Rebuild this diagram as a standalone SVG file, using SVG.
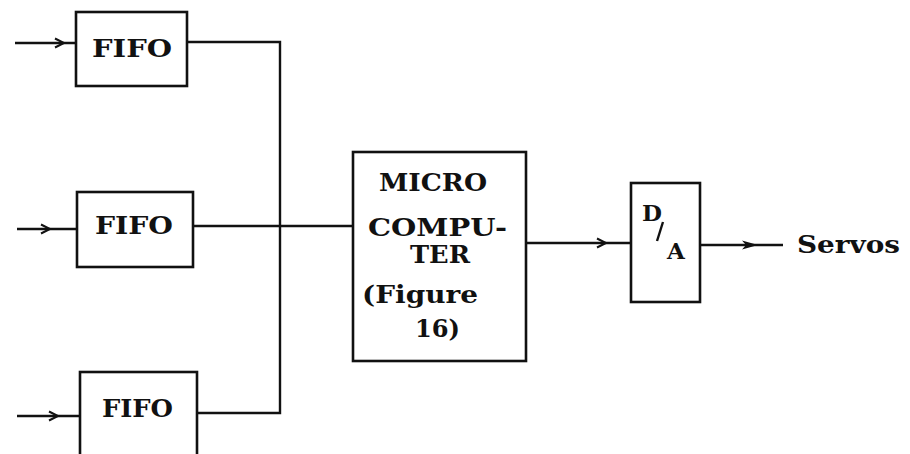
<svg xmlns="http://www.w3.org/2000/svg" width="910" height="454" viewBox="0 0 910 454">
<defs>
<style>
.box{fill:none;stroke:#111;stroke-width:2.6}
.ln{fill:none;stroke:#111;stroke-width:2.4}
.t{font-family:"DejaVu Serif","Liberation Serif",serif;font-weight:bold;fill:#111}
</style>
<marker id="barb" markerWidth="14" markerHeight="12" refX="10" refY="6" orient="auto" markerUnits="userSpaceOnUse">
<path d="M1,1.5 L10,6 L1,10.5" fill="none" stroke="#111" stroke-width="2"/>
</marker>
<marker id="fill" markerWidth="20" markerHeight="12" refX="16" refY="6" orient="auto" markerUnits="userSpaceOnUse">
<path d="M0,1.5 L16,6 L0,10.5 L4,6 Z" fill="#111"/>
</marker>
</defs>
<rect width="910" height="454" fill="#fff"/>
<g id="connectors">
<path class="ln" d="M15,43 L64,43 L76,43" marker-mid="url(#barb)"/>
<path class="ln" d="M17,229 L50,229 L77,229" marker-mid="url(#barb)"/>
<path class="ln" d="M17,416 L58,416 L80,416" marker-mid="url(#barb)"/>
<path class="ln" d="M187,42 L280,42 L280,413 L197,413"/>
<path class="ln" d="M193,226 L353,226"/>
<path class="ln" d="M526,243 L606,243 L631,243" marker-mid="url(#barb)"/>
<path class="ln" d="M700,245 L758,245 L783,245" marker-mid="url(#fill)"/>
</g>
<g id="fifo1">
<rect class="box" x="76" y="12" width="111" height="74"/>
<text class="t" x="92" y="57" font-size="25" textLength="80" lengthAdjust="spacingAndGlyphs">FIFO</text>
</g>
<g id="fifo2">
<rect class="box" x="77" y="192" width="116" height="75"/>
<text class="t" x="95" y="234" font-size="25" textLength="78" lengthAdjust="spacingAndGlyphs">FIFO</text>
</g>
<g id="fifo3">
<rect class="box" x="80" y="372" width="117" height="100"/>
<text class="t" x="102" y="417" font-size="25" textLength="71" lengthAdjust="spacingAndGlyphs">FIFO</text>
</g>
<g id="microcomputer">
<rect class="box" x="353" y="152" width="173" height="209"/>
<text class="t" x="379" y="191" font-size="25" textLength="108" lengthAdjust="spacingAndGlyphs">MICRO</text>
<text class="t" x="368" y="236" font-size="25" textLength="139" lengthAdjust="spacingAndGlyphs">COMPU-</text>
<text class="t" x="410" y="263" font-size="25" textLength="60" lengthAdjust="spacingAndGlyphs">TER</text>
<text class="t" x="362" y="303" font-size="25" textLength="116" lengthAdjust="spacingAndGlyphs">(Figure</text>
<text class="t" x="415" y="337" font-size="25" textLength="45" lengthAdjust="spacingAndGlyphs">16)</text>
</g>
<g id="da">
<rect class="box" x="631" y="183" width="69" height="119"/>
<text class="t" x="642" y="221" font-size="23">D</text>
<line class="ln" x1="663" y1="222" x2="657" y2="241"/>
<text class="t" x="667" y="259" font-size="23">A</text>
</g>
<g id="servos">
<text class="t" x="797" y="253" font-size="24" textLength="103" lengthAdjust="spacingAndGlyphs">Servos</text>
</g>
</svg>
